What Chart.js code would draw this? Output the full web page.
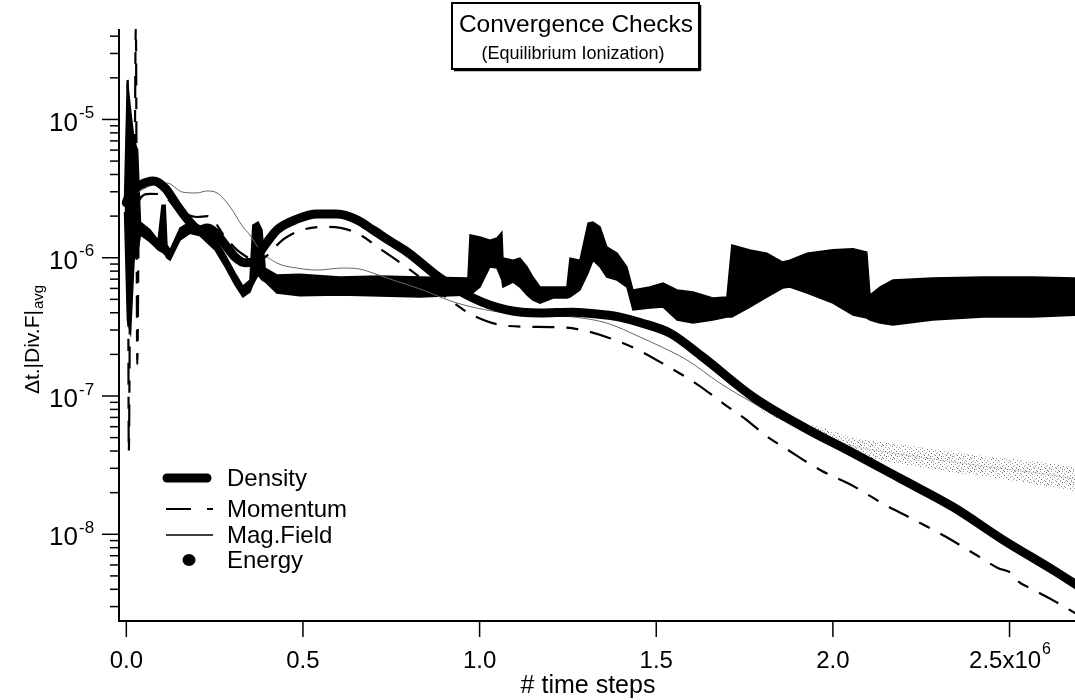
<!DOCTYPE html>
<html lang="en">
<head>
<meta charset="UTF-8" />
<title>Convergence Checks</title>
<script src="https://cdn.jsdelivr.net/npm/chart.js@4.4.1/dist/chart.umd.min.js"></script>
<style>
  html, body { margin: 0; padding: 0; background: #ffffff; }
  #wrap { width: 1075px; height: 700px; }
</style>
</head>
<body>
<div id="wrap"><canvas id="conv" width="1075" height="700"></canvas></div>
<script>
// time steps are in units of 1e6
const densitySteps = [0.000, 0.010, 0.040, 0.076, 0.110, 0.143, 0.180, 0.209, 0.228, 0.251, 0.280, 0.308, 0.336, 0.356, 0.373, 0.393, 0.427, 0.483, 0.540, 0.596, 0.653, 0.698, 0.746, 0.795, 0.888, 0.981, 1.077, 1.171, 1.264, 1.360, 1.397, 1.454, 1.539, 1.632, 1.774, 1.916, 2.057, 2.199, 2.341, 2.482, 2.623, 2.690];
const densityVals = [2.5e-6, 2.9e-6, 3.36e-6, 3.59e-6, 3.19e-6, 2.4e-6, 1.81e-6, 1.59e-6, 1.64e-6, 1.53e-6, 1.24e-6, 1.01e-6, 9.2e-7, 9.3e-7, 1.05e-6, 1.24e-6, 1.59e-6, 1.9e-6, 2.07e-6, 2.07e-6, 1.88e-6, 1.59e-6, 1.32e-6, 1.1e-6, 7.13e-7, 5.11e-7, 4.19e-7, 3.98e-7, 4.04e-7, 3.85e-7, 3.72e-7, 3.4e-7, 2.85e-7, 1.91e-7, 9.84e-8, 5.97e-8, 3.87e-8, 2.47e-8, 1.57e-8, 9.1e-9, 5.52e-9, 4.3e-9];

const momentumSteps = [0.000, 0.004, 0.007, 0.012, 0.018, 0.022, 0.027, 0.031, 0.036, 0.067, 0.095, 0.150, 0.200, 0.230, 0.280, 0.313, 0.342, 0.365, 0.450, 0.506, 0.568, 0.647, 0.727, 0.797, 0.916, 0.979, 1.080, 1.205, 1.276, 1.369, 1.449, 1.525, 1.615, 1.692, 1.760, 1.808, 1.873, 1.964, 2.058, 2.148, 2.236, 2.321, 2.406, 2.467, 2.510, 2.516, 2.570, 2.626, 2.690];
const momentumVals = [2.4e-6, 1.9e-5, 3.9e-8, 2.6e-6, 6e-6, 1.2e-6, 5e-5, 1.7e-7, 2.6e-6, 2.9e-6, 2.88e-6, 2.2e-6, 1.97e-6, 2.0e-6, 1.41e-6, 1.14e-6, 1.01e-6, 9.3e-7, 1.39e-6, 1.61e-6, 1.67e-6, 1.53e-6, 1.12e-6, 8.4e-7, 4.94e-7, 3.86e-7, 3.21e-7, 3.15e-7, 3.05e-7, 2.62e-7, 2.15e-7, 1.68e-7, 1.22e-7, 8.75e-8, 6.59e-8, 5.22e-8, 4.07e-8, 2.92e-8, 2.23e-8, 1.63e-8, 1.25e-8, 9.55e-9, 7.08e-9, 5.7e-9, 5.1e-9, 4.8e-9, 3.95e-9, 3.3e-9, 2.65e-9];

const magSteps = [0.000, 0.059, 0.115, 0.160, 0.200, 0.228, 0.257, 0.294, 0.330, 0.350, 0.378, 0.426, 0.483, 0.540, 0.613, 0.661, 0.698, 0.755, 0.840, 0.888, 0.936, 0.993, 1.077, 1.171, 1.264, 1.360, 1.454, 1.491, 1.587, 1.680, 1.774, 1.842, 1.898, 1.963, 2.057, 2.153, 2.246, 2.340, 2.436, 2.530, 2.623, 2.690];
const magVals = [2.6e-6, 3.24e-6, 3.47e-6, 2.98e-6, 2.94e-6, 3.04e-6, 2.94e-6, 2.33e-6, 1.67e-6, 1.46e-6, 1.14e-6, 9.16e-7, 8.42e-7, 8.15e-7, 8.42e-7, 8.28e-7, 7.75e-7, 6.9e-7, 5.84e-7, 5.2e-7, 4.7e-7, 4.32e-7, 3.98e-7, 3.85e-7, 3.73e-7, 3.37e-7, 2.67e-7, 2.42e-7, 1.82e-7, 1.24e-7, 8.9e-8, 7.05e-8, 6.17e-8, 5.35e-8, 4.33e-8, 3.93e-8, 3.62e-8, 3.33e-8, 3.08e-8, 2.88e-8, 2.67e-8, 2.5e-8];

// scatter of the magnetic field divergence late in the run
const magSpreadSteps = [1.800, 1.900, 1.963, 2.057, 2.153, 2.246, 2.340, 2.436, 2.530, 2.623, 2.690];
const magSpreadHigh = [8.3e-8, 6.6e-8, 5.97e-8, 5.0e-8, 4.6e-8, 4.28e-8, 3.95e-8, 3.64e-8, 3.46e-8, 3.25e-8, 3.05e-8];
const magSpreadLow = [7.7e-8, 5.8e-8, 4.8e-8, 3.75e-8, 3.35e-8, 3.07e-8, 2.8e-8, 2.61e-8, 2.39e-8, 2.2e-8, 2.05e-8];

// energy is very noisy: keep its upper and lower envelope
const energySteps = [-0.005, 0.003, 0.012, 0.022, 0.032, 0.040, 0.067, 0.090, 0.101, 0.110, 0.115, 0.124, 0.152, 0.180, 0.209, 0.251, 0.280, 0.308, 0.330, 0.350, 0.358, 0.373, 0.384, 0.393, 0.426, 0.491, 0.605, 0.718, 0.831, 0.967, 0.973, 1.001, 1.029, 1.049, 1.063, 1.066, 1.095, 1.114, 1.134, 1.151, 1.171, 1.208, 1.247, 1.256, 1.284, 1.307, 1.321, 1.341, 1.360, 1.389, 1.417, 1.434, 1.482, 1.519, 1.559, 1.604, 1.660, 1.700, 1.714, 1.765, 1.813, 1.858, 1.878, 1.927, 2.000, 2.057, 2.096, 2.105, 2.133, 2.170, 2.283, 2.425, 2.566, 2.690];
const energyHigh = [2.7e-6, 1.93e-5, 1.17e-5, 7.1e-6, 6.0e-6, 1.81e-6, 1.59e-6, 1.34e-6, 2.4e-6, 2.4e-6, 1.24e-6, 1.14e-6, 1.64e-6, 1.81e-6, 1.7e-6, 1.39e-6, 1.05e-6, 7.75e-7, 6.24e-7, 6.9e-7, 1.72e-6, 1.81e-6, 1.59e-6, 8.4e-7, 7.5e-7, 7.6e-7, 7.25e-7, 7.37e-7, 7.25e-7, 7.13e-7, 1.46e-6, 1.41e-6, 1.34e-6, 1.39e-6, 1.53e-6, 9.95e-7, 9.6e-7, 9.95e-7, 8.6e-7, 7.25e-7, 6.14e-7, 6.14e-7, 6.14e-7, 9.95e-7, 9.6e-7, 1.78e-6, 1.81e-6, 1.67e-6, 1.2e-6, 1.08e-6, 8.57e-7, 5.84e-7, 6.14e-7, 6.56e-7, 5.84e-7, 5.65e-7, 5.11e-7, 5.2e-7, 1.235e-6, 1.137e-6, 1.08e-6, 9.3e-7, 9.6e-7, 1.08e-6, 1.14e-6, 1.16e-6, 1.1e-6, 5.37e-7, 6.14e-7, 6.9e-7, 7.13e-7, 7.25e-7, 7.25e-7, 7.13e-7];
const energyLow = [2.14e-6, 3.54e-7, 2.85e-7, 9.6e-7, 1.1e-6, 1.46e-6, 1.3e-6, 1.14e-6, 1.1e-6, 1.05e-6, 9.95e-7, 9.6e-7, 1.34e-6, 1.5e-6, 1.44e-6, 1.14e-6, 8.6e-7, 6.35e-7, 5.2e-7, 5.65e-7, 6.35e-7, 7.5e-7, 6.9e-7, 6.7e-7, 5.56e-7, 5.3e-7, 5.37e-7, 5.28e-7, 5.2e-7, 5.37e-7, 5.37e-7, 6.14e-7, 8.57e-7, 8.42e-7, 6.9e-7, 6.14e-7, 6.67e-7, 6.14e-7, 5.37e-7, 4.94e-7, 4.7e-7, 5.11e-7, 5.11e-7, 5.2e-7, 5.84e-7, 7.75e-7, 9.6e-7, 8.57e-7, 7.25e-7, 6.9e-7, 6.14e-7, 4.19e-7, 4.33e-7, 4.4e-7, 3.54e-7, 3.37e-7, 3.54e-7, 3.72e-7, 3.72e-7, 4.4e-7, 5.2e-7, 6.04e-7, 6.14e-7, 5.56e-7, 4.7e-7, 3.85e-7, 3.66e-7, 3.54e-7, 3.37e-7, 3.26e-7, 3.54e-7, 3.72e-7, 3.72e-7, 3.85e-7];

const xTicks = [0, 0.5, 1.0, 1.5, 2.0, 2.5];
const xTickLabels = ['0.0', '0.5', '1.0', '1.5', '2.0', '2.5'];
const yDecades = [-9, -8, -7, -6, -5];
const seriesNames = ['Density', 'Momentum', 'Mag.Field', 'Energy'];

const FONT = '"Liberation Sans", Arial, Helvetica, sans-serif';
const X_MIN = -0.0207, X_MAX = 2.6853;
const Y_MIN = 2.36e-9, Y_MAX = 4.51e-5;
const DASH = [22, 12, 12, 12];
const SCATTER_FROM = 1.9;

const pts = (xs, ys) => xs.map((x, i) => ({ x: x, y: ys[i] }));

// grainy grey fill for the scattered mag field points
function stipple() {
  const c = document.createElement('canvas');
  c.width = 11; c.height = 13;
  const g = c.getContext('2d');
  const dots = [[0,0],[4,0],[8,1],[2,2],[6,3],[10,3],[1,4],[5,5],[9,6],[3,7],[7,7],[0,8],[5,9],[9,9],[2,10],[7,11],[4,12],[10,12],[6,1],[8,5],[1,11],[3,3]];
  dots.forEach(([dx, dy], i) => {
    g.fillStyle = i % 3 === 0 ? '#707070' : '#a4a4a4';
    g.fillRect(dx, dy, 1, 1);
  });
  return g.createPattern(c, 'repeat');
}

function line(ctx, x1, y1, x2, y2) {
  ctx.beginPath();
  ctx.moveTo(x1, y1);
  ctx.lineTo(x2, y2);
  ctx.stroke();
}

// axes, tick marks, labels, title box and legend
const decorations = {
  id: 'decorations',
  afterDraw(chart) {
    const { ctx, chartArea: a, scales: { x, y } } = chart;
    ctx.save();
    ctx.strokeStyle = '#000';
    ctx.fillStyle = '#000';

    ctx.lineWidth = 2;
    ctx.beginPath();
    ctx.moveTo(a.left, a.top);
    ctx.lineTo(a.left, a.bottom);
    ctx.lineTo(a.right, a.bottom);
    ctx.stroke();

    // x ticks
    ctx.lineWidth = 1.5;
    ctx.textBaseline = 'middle';
    xTicks.forEach((v, i) => {
      const px = x.getPixelForValue(v);
      line(ctx, px, a.bottom, px, a.bottom + 16);
      if (i === xTicks.length - 1) {
        ctx.font = '24px ' + FONT;
        const main = xTickLabels[i] + 'x10';
        const wMain = ctx.measureText(main).width;
        ctx.font = '16px ' + FONT;
        const wExp = ctx.measureText('6').width;
        const start = px - (wMain + wExp) / 2;
        ctx.textAlign = 'left';
        ctx.font = '24px ' + FONT;
        ctx.fillText(main, start, a.bottom + 40);
        ctx.font = '16px ' + FONT;
        ctx.fillText('6', start + wMain + 1, a.bottom + 29);
      } else {
        ctx.textAlign = 'center';
        ctx.font = '24px ' + FONT;
        ctx.fillText(xTickLabels[i], px, a.bottom + 40);
      }
    });

    ctx.textAlign = 'center';
    ctx.font = '25px ' + FONT;
    ctx.fillText('# time steps', 588, 686);

    // y ticks, 1..9 per decade
    yDecades.forEach(d => {
      for (let m = 1; m <= 9; m++) {
        const v = m * Math.pow(10, d);
        if (v < Y_MIN || v > Y_MAX) continue;
        const py = y.getPixelForValue(v);
        line(ctx, a.left - (m === 1 ? 17 : 9), py, a.left, py);
        if (m === 1) {
          ctx.textAlign = 'right';
          ctx.font = '26px ' + FONT;
          ctx.fillText('10', 78, py + 4);
          ctx.textAlign = 'left';
          ctx.font = '17px ' + FONT;
          ctx.fillText(String(d), 79, py - 6);
        }
      }
    });

    // y axis title
    ctx.save();
    ctx.translate(33, 340);
    ctx.rotate(-Math.PI / 2);
    ctx.font = '21px ' + FONT;
    const t1 = '\u0394t.|Div.F|';
    const w1 = ctx.measureText(t1).width;
    ctx.font = '15px ' + FONT;
    const w2 = ctx.measureText('avg').width;
    const s = -(w1 + w2) / 2;
    ctx.textAlign = 'left';
    ctx.font = '21px ' + FONT;
    ctx.fillText(t1, s, 0);
    ctx.font = '15px ' + FONT;
    ctx.fillText('avg', s + w1 + 1, 6);
    ctx.restore();

    // title box
    ctx.fillStyle = '#fff';
    ctx.fillRect(452, 3, 247, 66);
    ctx.fillStyle = '#000';
    ctx.lineWidth = 2;
    ctx.strokeRect(452, 3, 247, 66);
    ctx.lineWidth = 1.5;
    line(ctx, 454, 70.5, 700.5, 70.5);
    line(ctx, 700.5, 5, 700.5, 70.5);
    ctx.textAlign = 'center';
    ctx.font = '24.5px ' + FONT;
    ctx.fillText('Convergence Checks', 576, 25);
    ctx.font = '18px ' + FONT;
    ctx.fillText('(Equilibrium Ionization)', 573, 54);

    // legend
    const rows = [478, 509, 535, 560];
    ctx.textAlign = 'left';
    ctx.font = '24px ' + FONT;
    rows.forEach((ry, i) => ctx.fillText(seriesNames[i], 227, ry + 1));
    ctx.lineCap = 'round';
    ctx.lineWidth = 9;
    line(ctx, 167, rows[0], 207, rows[0]);
    ctx.lineCap = 'butt';
    ctx.lineWidth = 2;
    line(ctx, 166, rows[1], 191, rows[1]);
    line(ctx, 207, rows[1], 213, rows[1]);
    ctx.lineWidth = 1.5;
    line(ctx, 166, rows[2], 213, rows[2]);
    ctx.beginPath();
    ctx.ellipse(189, rows[3], 6.5, 6, 0, 0, Math.PI * 2);
    ctx.fill();

    ctx.restore();
  }
};

new Chart(document.getElementById('conv'), {
  type: 'line',
  data: {
    datasets: [
      {
        label: 'Density',
        data: pts(densitySteps, densityVals),
        borderColor: '#000',
        borderWidth: 9,
        borderCapStyle: 'round',
        borderJoinStyle: 'round',
        cubicInterpolationMode: 'monotone'
      },
      {
        label: 'Momentum',
        data: pts(momentumSteps, momentumVals),
        borderColor: '#000',
        borderWidth: 2.2,
        borderDash: DASH,
        cubicInterpolationMode: 'monotone'
      },
      {
        label: 'Mag.Field',
        data: pts(magSteps, magVals),
        borderColor: '#666',
        borderWidth: 1,
        cubicInterpolationMode: 'monotone',
        segment: {
          borderColor: c => c.p0.parsed.x >= SCATTER_FROM ? 'rgba(80,80,80,0.25)' : undefined
        }
      },
      {
        label: 'Mag.Field spread high',
        data: pts(magSpreadSteps, magSpreadHigh),
        borderColor: 'rgba(0,0,0,0)',
        borderWidth: 0,
        backgroundColor: stipple(),
        fill: '+1',
        cubicInterpolationMode: 'monotone'
      },
      {
        label: 'Mag.Field spread low',
        data: pts(magSpreadSteps, magSpreadLow),
        borderColor: 'rgba(0,0,0,0)',
        borderWidth: 0,
        cubicInterpolationMode: 'monotone'
      },
      {
        label: 'Energy high',
        data: pts(energySteps, energyHigh),
        borderColor: '#000',
        borderWidth: 1.5,
        backgroundColor: '#000',
        fill: '+1',
        tension: 0
      },
      {
        label: 'Energy low',
        data: pts(energySteps, energyLow),
        borderColor: '#000',
        borderWidth: 1.5,
        tension: 0
      }
    ]
  },
  options: {
    responsive: false,
    animation: false,
    devicePixelRatio: 1,
    layout: { padding: { left: 119, top: 29, right: 0, bottom: 79 } },
    elements: { point: { radius: 0 } },
    plugins: {
      legend: { display: false },
      tooltip: { enabled: false }
    },
    scales: {
      x: { type: 'linear', display: false, min: X_MIN, max: X_MAX },
      y: { type: 'logarithmic', display: false, min: Y_MIN, max: Y_MAX }
    }
  },
  plugins: [decorations]
});
</script>
</body>
</html>
